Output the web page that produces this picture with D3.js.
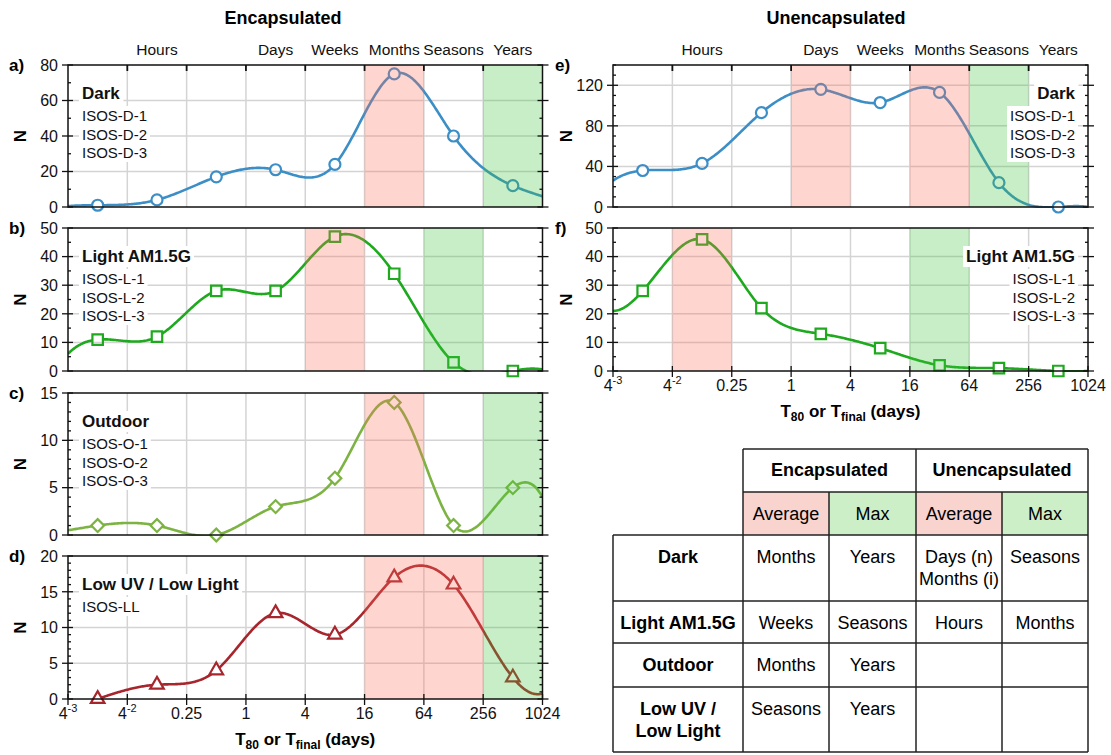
<!DOCTYPE html>
<html>
<head>
<meta charset="utf-8">
<script src="https://cdn.jsdelivr.net/npm/d3@7"></script>
<style>
	body { margin: 0; background: #fff; }
	svg { font-family: "Liberation Sans", Arial, Helvetica, sans-serif; }
</style>
</head>
<body>
<script>
// lifetime bins (days), centres of each 2x2 decade on the log axis
const tDays = [1 / 32, 1 / 8, 1 / 2, 2, 8, 32, 128, 512];
// the smooth curves run on to the axis ends; values there
const endDays = [1 / 64, 1024];

const encDark = [1, 4, 17, 21, 24, 75, 40, 12];
const encLight = [11, 12, 28, 28, 47, 34, 3, 0];
const encOutdoor = [1, 1, 0, 3, 6, 14, 1, 5];
const encLowLight = [0, 2, 4, 12, 9, 17, 16, 3];
const unencDark = [36, 43, 93, 116, 103, 113, 24, 0];
const unencLight = [28, 46, 22, 13, 8, 2, 1, 0];

const encDarkEnds = [0.5, 6];
const encLightEnds = [6, 0.5];
const encOutdoorEnds = [0.5, 4];
const encLowLightEnds = [-1.5, 0.8];
const unencDarkEnds = [26, 0];
const unencLightEnds = [21, 0];

const xTicks = [1 / 64, 1 / 16, 1 / 4, 1, 4, 16, 64, 256, 1024];
const xTickLabels = [['4', '-3'], ['4', '-2'], ['0.25'], ['1'], ['4'], ['16'], ['64'], ['256'], ['1024']];
const periods = ['Hours', 'Days', 'Weeks', 'Months', 'Seasons', 'Years'];
const periodDays = [1 / 8, 2, 8, 32, 128, 512];

const darkCodes = ['ISOS-D-1', 'ISOS-D-2', 'ISOS-D-3'];
const lightCodes = ['ISOS-L-1', 'ISOS-L-2', 'ISOS-L-3'];
const outdoorCodes = ['ISOS-O-1', 'ISOS-O-2', 'ISOS-O-3'];
const lowLightCodes = ['ISOS-LL'];

// table content
const tableGroups = ['Encapsulated', 'Unencapsulated'];
const tableStats = ['Average', 'Max', 'Average', 'Max'];
const tableRows = [['Dark'], ['Light AM1.5G'], ['Outdoor'], ['Low UV /', 'Low Light']];
const encAvg = [['Months'], ['Weeks'], ['Months'], ['Seasons']];
const encMax = [['Years'], ['Seasons'], ['Years'], ['Years']];
const unencAvg = [['Days (n)', 'Months (i)'], ['Hours'], [], []];
const unencMax = [['Seasons'], ['Months'], [], []];

const W = 1111, H = 755;
const blue = '#3c8ec6', green = '#1ea91e', olive = '#7cb342', maroon = '#a7262d';
const pinkBand = '#ff6f5e', greenBand = '#3ec53a';

const svg = d3.select('body').append('svg').attr('width', W).attr('height', H);

// not-a-knot cubic spline
function notAKnot(ts, ys) {
	const n = ts.length;
	const h = d3.range(n - 1).map((i) => ts[i + 1] - ts[i]);
	const A = d3.range(n).map(() => new Array(n).fill(0));
	const b = new Array(n).fill(0);
	A[0][0] = -h[1]; A[0][1] = h[0] + h[1]; A[0][2] = -h[0];
	for (let i = 1; i < n - 1; i++) {
		A[i][i - 1] = h[i - 1];
		A[i][i] = 2 * (h[i - 1] + h[i]);
		A[i][i + 1] = h[i];
		b[i] = 6 * ((ys[i + 1] - ys[i]) / h[i] - (ys[i] - ys[i - 1]) / h[i - 1]);
	}
	A[n - 1][n - 3] = -h[n - 2]; A[n - 1][n - 2] = h[n - 2] + h[n - 3]; A[n - 1][n - 1] = -h[n - 3];
	// gaussian elimination
	for (let c = 0; c < n; c++) {
		let p = c;
		for (let r = c + 1; r < n; r++) if (Math.abs(A[r][c]) > Math.abs(A[p][c])) p = r;
		[A[c], A[p]] = [A[p], A[c]];
		[b[c], b[p]] = [b[p], b[c]];
		for (let r = c + 1; r < n; r++) {
			const f = A[r][c] / A[c][c];
			for (let k = c; k < n; k++) A[r][k] -= f * A[c][k];
			b[r] -= f * b[c];
		}
	}
	const M = new Array(n).fill(0);
	for (let r = n - 1; r >= 0; r--) {
		let s = b[r];
		for (let k = r + 1; k < n; k++) s -= A[r][k] * M[k];
		M[r] = s / A[r][r];
	}
	return (t) => {
		let i = d3.bisectRight(ts, t) - 1;
		i = Math.max(0, Math.min(n - 2, i));
		const t0 = ts[i], t1 = ts[i + 1], hh = h[i];
		return M[i] * Math.pow(t1 - t, 3) / (6 * hh) + M[i + 1] * Math.pow(t - t0, 3) / (6 * hh)
			+ (ys[i] / hh - M[i] * hh / 6) * (t1 - t) + (ys[i + 1] / hh - M[i + 1] * hh / 6) * (t - t0);
	};
}

const markerShapes = {
	circle: { type: d3.symbolCircle, size: 95, rot: 0 },
	square: { type: d3.symbolSquare, size: 110, rot: 0 },
	diamond: { type: d3.symbolSquare, size: 82, rot: 45 },
	triangle: { type: d3.symbolTriangle, size: 80, rot: 0 },
};

const panels = [
	{ id: 'a', xr: [68, 542.5], top: 65, bottom: 207, yMax: 80, major: 20, minor: 10, values: encDark, ends: encDarkEnds, color: blue, marker: 'circle', avg: [[16, 64]], max: [[256, 1024]], title: 'Dark', codes: darkCodes, align: 'left', topAxis: true },
	{ id: 'b', xr: [68, 542.5], top: 228, bottom: 371, yMax: 50, major: 10, minor: 5, values: encLight, ends: encLightEnds, color: green, marker: 'square', avg: [[4, 16]], max: [[64, 256]], title: 'Light AM1.5G', codes: lightCodes, align: 'left' },
	{ id: 'c', xr: [68, 542.5], top: 393, bottom: 535, yMax: 15, major: 5, minor: 1, values: encOutdoor, ends: encOutdoorEnds, color: olive, marker: 'diamond', avg: [[16, 64]], max: [[256, 1024]], title: 'Outdoor', codes: outdoorCodes, align: 'left' },
	{ id: 'd', xr: [68, 542.5], top: 556, bottom: 699, yMax: 20, major: 5, minor: 1, values: encLowLight, ends: encLowLightEnds, color: maroon, marker: 'triangle', avg: [[16, 256]], max: [[256, 1024]], title: 'Low UV / Low Light', codes: lowLightCodes, align: 'left', bottomAxis: true },
	{ id: 'e', xr: [613, 1088], top: 65, bottom: 207, yMax: 140, major: 40, minor: 10, values: unencDark, ends: unencDarkEnds, color: blue, marker: 'circle', avg: [[1, 4], [16, 64]], max: [[64, 256]], title: 'Dark', codes: darkCodes, align: 'right', topAxis: true },
	{ id: 'f', xr: [613, 1088], top: 228, bottom: 371, yMax: 50, major: 10, minor: 5, values: unencLight, ends: unencLightEnds, color: green, marker: 'square', avg: [[1 / 16, 1 / 4]], max: [[16, 64]], title: 'Light AM1.5G', codes: lightCodes, align: 'right', bottomAxis: true },
];

const fitT = [endDays[0]].concat(tDays, [endDays[1]]).map(Math.log2);

panels.forEach((p) => {
	const x = d3.scaleLog().base(2).domain([1 / 64, 1024]).range(p.xr);
	const y = d3.scaleLinear().domain([0, p.yMax]).range([p.bottom, p.top]);
	const [x0, x1] = p.xr;
	const g = svg.append('g').attr('class', `panel-${p.id}`);

	g.append('clipPath').attr('id', `clip-${p.id}`)
		.append('rect').attr('x', x0).attr('y', p.top - 2).attr('width', x1 - x0).attr('height', p.bottom - p.top + 3);

	// grid
	g.append('g').selectAll('line').data(xTicks.slice(1, -1)).join('line')
		.attr('x1', (d) => x(d)).attr('x2', (d) => x(d)).attr('y1', p.top).attr('y2', p.bottom)
		.attr('stroke', '#d4d4d4').attr('stroke-width', 1.5);
	const yMajors = d3.range(0, p.yMax + 1e-9, p.major);
	g.append('g').selectAll('line').data(yMajors.filter((v) => v > 0 && v < p.yMax)).join('line')
		.attr('x1', x0).attr('x2', x1).attr('y1', (d) => y(d)).attr('y2', (d) => y(d))
		.attr('stroke', '#d4d4d4').attr('stroke-width', 1.5);

	// smooth curve, masked under the hollow markers
	const shape = markerShapes[p.marker];
	const sym = d3.symbol().type(shape.type).size(shape.size);
	const pts = tDays.map((t, i) => ({ t, v: p.values[i] }));
	const mask = g.append('mask').attr('id', `mask-${p.id}`).attr('maskUnits', 'userSpaceOnUse')
		.attr('x', 0).attr('y', 0).attr('width', W).attr('height', H);
	mask.append('rect').attr('width', W).attr('height', H).attr('fill', '#fff');
	mask.selectAll('path').data(pts).join('path')
		.attr('d', sym)
		.attr('transform', (d) => `translate(${x(d.t)},${y(d.v)}) rotate(${shape.rot})`)
		.attr('fill', '#000');

	const s = notAKnot(fitT, [p.ends[0]].concat(p.values, [p.ends[1]]));
	const curve = d3.range(-6, 10.0001, 0.04).map((t) => ({ t: Math.pow(2, t), v: Math.max(s(t), -3) }));
	const line = d3.line().x((d) => x(d.t)).y((d) => y(d.v));
	g.append('g').attr('clip-path', `url(#clip-${p.id})`)
		.append('path').datum(curve)
		.attr('d', line).attr('fill', 'none').attr('stroke', p.color).attr('stroke-width', 2.6)
		.attr('mask', `url(#mask-${p.id})`);

	g.append('g').selectAll('path').data(pts).join('path')
		.attr('d', sym)
		.attr('transform', (d) => `translate(${x(d.t)},${y(d.v)}) rotate(${shape.rot})`)
		.attr('fill', 'none').attr('stroke', p.color).attr('stroke-width', 2.2);

	// average / max bands sit over the data
	const bands = p.avg.map((b) => ({ b, c: pinkBand })).concat(p.max.map((b) => ({ b, c: greenBand })));
	g.append('g').selectAll('rect').data(bands).join('rect')
		.attr('x', (d) => x(d.b[0])).attr('width', (d) => x(d.b[1]) - x(d.b[0]))
		.attr('y', p.top).attr('height', p.bottom - p.top)
		.attr('fill', (d) => d.c).attr('opacity', 0.29);

	// frame and ticks
	g.append('rect').attr('x', x0).attr('y', p.top).attr('width', x1 - x0).attr('height', p.bottom - p.top)
		.attr('fill', 'none').attr('stroke', '#111').attr('stroke-width', 1.5);
	const yMinors = d3.range(0, p.yMax + 1e-9, p.minor).filter((v) => yMajors.indexOf(v) < 0);
	const tk = g.append('g').attr('stroke', '#111').attr('stroke-width', 1.3);
	yMajors.forEach((v) => {
		tk.append('line').attr('x1', x0 - 6).attr('x2', x0 + 5).attr('y1', y(v)).attr('y2', y(v));
		tk.append('line').attr('x1', x1 - 5).attr('x2', x1 + 6).attr('y1', y(v)).attr('y2', y(v));
	});
	yMinors.forEach((v) => {
		tk.append('line').attr('x1', x0).attr('x2', x0 + 3).attr('y1', y(v)).attr('y2', y(v));
		tk.append('line').attr('x1', x1 - 3).attr('x2', x1).attr('y1', y(v)).attr('y2', y(v));
	});

	g.append('g').selectAll('text').data(yMajors).join('text')
		.attr('x', x0 - 10).attr('y', (d) => y(d)).attr('dy', '0.36em')
		.attr('text-anchor', 'end').attr('font-size', 16).attr('fill', '#111')
		.text((d) => d);

	// y label and panel letter
	const nx = p.align === 'left' ? 20 : 566;
	g.append('text').attr('transform', `translate(${nx + 6},${(p.top + p.bottom) / 2}) rotate(-90)`)
		.attr('text-anchor', 'middle').attr('font-size', 17).attr('font-weight', 'bold').text('N');
	g.append('text').attr('x', p.align === 'left' ? 9 : 555).attr('y', p.top + 6)
		.attr('font-size', 17).attr('font-weight', 'bold').text(`${p.id})`);

	if (p.topAxis) {
		xTicks.slice(1, -1).forEach((v) => {
			tk.append('line').attr('x1', x(v)).attr('x2', x(v)).attr('y1', p.top).attr('y2', p.top + 6)
				.attr('stroke-width', 1.8);
		});
		g.append('g').selectAll('text').data(periods).join('text')
			.attr('x', (d, i) => x(periodDays[i])).attr('y', p.top - 10)
			.attr('text-anchor', 'middle').attr('font-size', 15.5).attr('fill', '#111')
			.text((d) => d);
	}

	if (p.bottomAxis) {
		xTicks.forEach((v) => {
			tk.append('line').attr('x1', x(v)).attr('x2', x(v)).attr('y1', p.bottom - 5).attr('y2', p.bottom + 6);
		});
		const lab = g.append('g').selectAll('text').data(xTicks).join('text')
			.attr('x', (d) => x(d)).attr('y', p.bottom + 20)
			.attr('text-anchor', 'middle').attr('font-size', 16).attr('fill', '#111');
		lab.each(function (d, i) {
			const parts = xTickLabels[i];
			const t = d3.select(this);
			t.append('tspan').text(parts[0]);
			if (parts[1]) t.append('tspan').attr('dy', -7).attr('font-size', 11).text(parts[1]);
		});
		const at = g.append('text').attr('x', (x0 + x1) / 2).attr('y', p.bottom + 46)
			.attr('text-anchor', 'middle').attr('font-size', 17).attr('font-weight', 'bold');
		at.append('tspan').text('T');
		at.append('tspan').attr('dy', 4).attr('font-size', 12).text('80');
		at.append('tspan').attr('dy', -4).text(' or T');
		at.append('tspan').attr('dy', 4).attr('font-size', 12).text('final');
		at.append('tspan').attr('dy', -4).text(' (days)');
	}

	// legend texts with white backing
	const lx = p.align === 'left' ? x0 + 14 : x1 - 13;
	const anchor = p.align === 'left' ? 'start' : 'end';
	const items = [{ txt: p.title, bold: true, yy: p.top + 34 }]
		.concat(p.codes.map((c, i) => ({ txt: c, bold: false, yy: p.top + 56 + 18.5 * i })));
	const lg = g.append('g');
	items.forEach((it) => {
		const bg = lg.append('rect').attr('fill', '#fff');
		const t = lg.append('text').attr('x', lx).attr('y', it.yy).attr('text-anchor', anchor)
			.attr('font-size', it.bold ? 17 : 15).attr('font-weight', it.bold ? 'bold' : 'normal')
			.attr('fill', '#111').text(it.txt);
		const bb = t.node().getBBox();
		bg.attr('x', bb.x - 3).attr('y', bb.y - 1).attr('width', bb.width + 6).attr('height', bb.height + 2);
	});
});

// column titles
svg.append('g').selectAll('text').data(tableGroups).join('text')
	.attr('x', (d, i) => [283, 836][i]).attr('y', 24)
	.attr('text-anchor', 'middle').attr('font-size', 18).attr('font-weight', 'bold').text((d) => d);

// summary table
const colX = [613, 743, 829, 916, 1002, 1088];
const rowY = [449, 492, 535, 601, 643, 687, 752];
const tg = svg.append('g').attr('class', 'table');
const statFill = ['#f9d3ce', '#cdefc8', '#f9d3ce', '#cdefc8'];
tableStats.forEach((d, i) => {
	tg.append('rect').attr('x', colX[i + 1]).attr('y', rowY[1]).attr('width', colX[i + 2] - colX[i + 1])
		.attr('height', rowY[2] - rowY[1]).attr('fill', statFill[i]);
	tg.append('text').attr('x', (colX[i + 1] + colX[i + 2]) / 2).attr('y', rowY[1] + 28)
		.attr('text-anchor', 'middle').attr('font-size', 18).text(d);
});
tableGroups.forEach((d, i) => {
	tg.append('text').attr('x', (colX[1 + 2 * i] + colX[3 + 2 * i]) / 2).attr('y', rowY[0] + 27)
		.attr('text-anchor', 'middle').attr('font-size', 18).attr('font-weight', 'bold').text(d);
});
const cols = [tableRows, encAvg, encMax, unencAvg, unencMax];
tableRows.forEach((r, ri) => {
	cols.forEach((col, ci) => {
		const lines = col[ri];
		lines.forEach((ln, li) => {
			tg.append('text').attr('x', (colX[ci] + colX[ci + 1]) / 2).attr('y', rowY[ri + 2] + 28 + 22 * li)
				.attr('text-anchor', 'middle').attr('font-size', 18)
				.attr('font-weight', ci === 0 ? 'bold' : 'normal').text(ln);
		});
	});
});
const tl = tg.append('g').attr('stroke', '#222').attr('stroke-width', 1.5);
// horizontal rules
rowY.forEach((yy, i) => {
	tl.append('line').attr('x1', i < 2 ? colX[1] : colX[0]).attr('x2', colX[5]).attr('y1', yy).attr('y2', yy);
});
// vertical rules
colX.forEach((xx, i) => {
	const y0 = i === 0 ? rowY[2] : (i === 2 || i === 4) ? rowY[1] : rowY[0];
	tl.append('line').attr('x1', xx).attr('x2', xx).attr('y1', y0).attr('y2', rowY[6]);
});
</script>
</body>
</html>
